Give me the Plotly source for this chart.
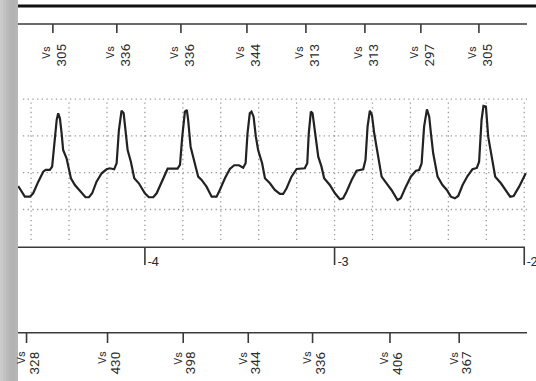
import plotly.graph_objects as go

# ---------------- data ----------------
# EGM waveform: time (s) and amplitude (mV)
t_seg1 = [-4.668, -4.633, -4.606, -4.589, -4.562, -4.536, -4.523, -4.501, -4.489, -4.478,
          -4.465, -4.457, -4.448, -4.439, -4.431, -4.413, -4.404, -4.390, -4.369, -4.343,
          -4.313, -4.295, -4.278, -4.255, -4.228, -4.202, -4.185, -4.162, -4.149, -4.137,
          -4.123, -4.112, -4.102, -4.091, -4.074, -4.056, -4.032, -4.009]
a_seg1 = [-0.181, -0.326, -0.326, -0.280, -0.122, 0.014, 0.037, 0.037, 0.082, 0.353,
          0.716, 0.807, 0.739, 0.535, 0.308, 0.196, 0.082, -0.076, -0.167, -0.245,
          -0.334, -0.334, -0.280, -0.122, -0.008, 0.046, 0.060, 0.046, 0.128, 0.580,
          0.842, 0.807, 0.535, 0.308, 0.149, -0.076, -0.144, -0.235]
t_seg2 = [-4.000, -3.979, -3.956, -3.938, -3.912, -3.880, -3.828, -3.815, -3.803, -3.789,
          -3.779, -3.772, -3.759, -3.740, -3.719, -3.701, -3.675, -3.648, -3.622, -3.605,
          -3.578, -3.552, -3.529, -3.504, -3.482, -3.469, -3.459, -3.447, -3.438, -3.427,
          -3.415, -3.403, -3.382, -3.367, -3.341, -3.315]
a_seg2 = [-0.280, -0.334, -0.334, -0.280, -0.122, 0.054, 0.054, 0.105, 0.489, 0.829,
          0.852, 0.716, 0.353, 0.173, -0.054, -0.099, -0.190, -0.326, -0.326, -0.235,
          -0.076, 0.050, 0.101, 0.101, 0.068, 0.128, 0.535, 0.807, 0.829, 0.761,
          0.489, 0.308, 0.128, -0.076, -0.144, -0.235]
t_seg3 = [-3.288, -3.271, -3.253, -3.227, -3.200, -3.157, -3.144, -3.136, -3.125, -3.116,
          -3.104, -3.086, -3.069, -3.055, -3.025, -2.998, -2.972, -2.955, -2.937, -2.910,
          -2.884, -2.861, -2.849, -2.837, -2.826, -2.814, -2.803, -2.791, -2.773, -2.752,
          -2.726, -2.700, -2.668]
a_seg3 = [-0.289, -0.289, -0.212, -0.054, 0.050, 0.060, 0.128, 0.535, 0.829, 0.807,
          0.535, 0.217, 0.082, -0.076, -0.167, -0.280, -0.361, -0.348, -0.258, -0.099,
          0.027, 0.046, 0.046, 0.173, 0.625, 0.842, 0.784, 0.535, 0.264, -0.054,
          -0.144, -0.235, -0.371]
t_seg4 = [-2.651, -2.624, -2.598, -2.571, -2.554, -2.541, -2.528, -2.513, -2.501, -2.492,
          -2.480, -2.457, -2.431, -2.408, -2.387, -2.366, -2.348, -2.325, -2.299, -2.273,
          -2.250, -2.238, -2.225, -2.215, -2.202, -2.190, -2.176, -2.153, -2.123, -2.097,
          -2.074, -2.056, -2.027, -1.992]
a_seg4 = [-0.348, -0.190, -0.054, 0.027, 0.037, 0.128, 0.625, 0.861, 0.761, 0.535,
          0.264, -0.054, -0.167, -0.235, -0.326, -0.348, -0.317, -0.167, -0.045, 0.046,
          0.064, 0.149, 0.716, 0.906, 0.897, 0.489, 0.264, -0.054, -0.144, -0.235,
          -0.326, -0.317, -0.190, -0.008]

# marker channel (top)
top_marker_times = [-4.485, -4.148, -3.810, -3.462, -3.151, -2.840, -2.545, -2.239]
top_marker_labels = ["305", "336", "336", "344", "313", "313", "297", "305"]
# marker channel (bottom)
bot_marker_times = [-4.624, -4.197, -3.798, -3.455, -3.116, -2.708, -2.343]
bot_marker_labels = ["328", "430", "398", "344", "336", "406", "367"]
marker_event = "Vs"

# time axis ticks (s)
time_ticks = [-4, -3, -2]
time_tick_labels = ["-4", "-3", "-2"]
# grid
grid_times = [-4.6, -4.4, -4.2, -4.0, -3.8, -3.6, -3.4, -3.2, -3.0, -2.8, -2.6, -2.4, -2.2, -2.0]
grid_amps = [1.0, 0.5, 0.0, -0.5]

# ---------------- figure ----------------
W, H = 536, 381
L = 18
X_RANGE = [-4.669, -1.938]
Y_RANGE = [-2.830, 2.346]


def py(px):
    """pixel row -> paper y"""
    return 1 - px / H


def px_x(px):
    """pixel column -> paper x"""
    return (px - L) / (W - L)


t_all = t_seg1 + t_seg2 + t_seg3 + t_seg4
a_all = a_seg1 + a_seg2 + a_seg3 + a_seg4

fig = go.Figure()
fig.add_trace(go.Scatter(x=t_all, y=a_all, mode="lines",
                         line=dict(color="#222222", width=2.2),
                         hoverinfo="skip", showlegend=False))

shapes = []
# left gray band (gradient)
band_cols = ["#cacaca", "#c2c2c2", "#bbbbbb", "#b5b5b5", "#b2b2b2", "#b6b6b6"]
n = len(band_cols)
for i, c in enumerate(band_cols):
    shapes.append(dict(type="rect", xref="paper", yref="paper",
                       x0=px_x(i * L / n), x1=px_x((i + 1) * L / n), y0=0, y1=1,
                       fillcolor=c, line=dict(width=0), layer="below"))

# grid
GRID = dict(color="#9a9a9a", width=1.3, dash="1.3px,3.4px")
for gt in grid_times:
    shapes.append(dict(type="line", xref="x", yref="y", x0=gt, x1=gt,
                       y0=-0.915, y1=1.0, line=GRID, layer="below"))
for ga in grid_amps:
    shapes.append(dict(type="line", xref="x", yref="y", x0=-4.643, x1=-1.986,
                       y0=ga, y1=ga, line=GRID, layer="below"))

AX = dict(color="#3a3a3a", width=1.6)
# top thick line
shapes.append(dict(type="line", xref="paper", yref="paper", x0=0, x1=1,
                   y0=py(6), y1=py(6), line=dict(color="#111111", width=2.8)))
# top marker axis
shapes.append(dict(type="line", xref="paper", yref="paper", x0=0, x1=px_x(527),
                   y0=py(24), y1=py(24), line=AX))
for mt in top_marker_times:
    shapes.append(dict(type="line", xref="x", yref="paper", x0=mt, x1=mt,
                       y0=py(24), y1=py(33), line=AX))
# bottom marker axis
shapes.append(dict(type="line", xref="paper", yref="paper", x0=0, x1=px_x(527),
                   y0=py(332.7), y1=py(332.7), line=AX))
for mt in bot_marker_times:
    shapes.append(dict(type="line", xref="x", yref="paper", x0=mt, x1=mt,
                       y0=py(333), y1=py(343), line=AX))
# time axis
shapes.append(dict(type="line", xref="paper", yref="paper", x0=0, x1=1,
                   y0=py(247.3), y1=py(247.3), line=AX))
shapes.append(dict(type="line", xref="x", yref="paper", x0=time_ticks[-1] + 0.004, x1=X_RANGE[1] + 1,
                   y0=py(247.3), y1=py(247.3), line=dict(color="white", width=2.4)))
for tt in time_ticks:
    shapes.append(dict(type="line", xref="x", yref="paper", x0=tt, x1=tt,
                       y0=py(247.3), y1=py(265), line=AX))

annotations = []
FAM = "Roboto, Liberation Sans, sans-serif"
F_EVT = dict(family=FAM, size=11, color="#2e2e2e")
F_NUM = dict(family=FAM, size=13.5, color="#2e2e2e")


def marker_label(t, lab, y_evt, y_num, dx_evt, dx_num):
    annotations.append(dict(x=t, y=py(y_evt), xref="x", yref="paper",
                            xanchor="center", yanchor="middle",
                            text=marker_event, textangle=-90,
                            showarrow=False, xshift=dx_evt, font=F_EVT))
    annotations.append(dict(x=t, y=py(y_num), xref="x", yref="paper",
                            xanchor="center", yanchor="middle",
                            text=lab, textangle=-90,
                            showarrow=False, xshift=dx_num, font=F_NUM))


for mt, lab in zip(top_marker_times, top_marker_labels):
    marker_label(mt, lab, 52, 54.7, -7, 8)
for mt, lab in zip(bot_marker_times, bot_marker_labels):
    marker_label(mt, lab, 358, 363, -5.5, 7)

for tt, lab in zip(time_ticks, time_tick_labels):
    annotations.append(dict(x=tt, y=py(261.5), xref="x", yref="paper", text=lab,
                            xanchor="left", yanchor="middle", showarrow=False,
                            xshift=1, font=dict(family=FAM, size=13, color="#2e2e2e")))

fig.update_layout(
    width=W, height=H,
    margin=dict(l=L, r=0, t=0, b=0),
    paper_bgcolor="white", plot_bgcolor="white",
    xaxis=dict(range=X_RANGE, visible=False, fixedrange=True),
    yaxis=dict(range=Y_RANGE, visible=False, fixedrange=True),
    shapes=shapes, annotations=annotations,
    showlegend=False,
)

fig.write_html("out.html", config={"displayModeBar": False},
               post_script="document.body.style.margin='0';document.body.style.overflow='hidden';")
